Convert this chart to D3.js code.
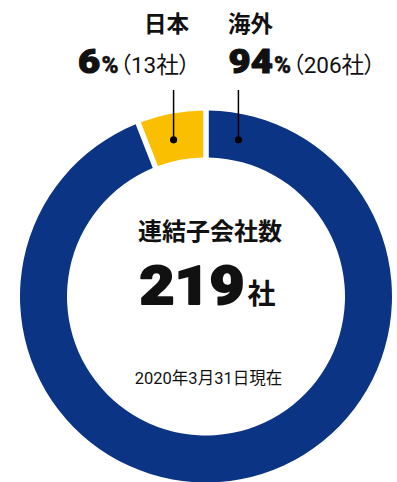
<!DOCTYPE html>
<html>
<head>
<meta charset="utf-8">
<script src="https://cdn.jsdelivr.net/npm/d3@7/dist/d3.min.js"></script>
<style>
  html, body { margin: 0; padding: 0; background: #fff; }
  svg { display: block; }
  text { font-family: Roboto, "Noto Sans CJK JP", sans-serif; fill: #111; }
  .jp { font-family: "Noto Sans CJK JP", sans-serif; }
  .num { font-family: Roboto, "Liberation Sans", sans-serif; font-weight: 900;
         stroke: #111; stroke-linejoin: round; }
  .paren { font-feature-settings: "palt"; }
</style>
</head>
<body>
<svg id="chart" width="397" height="482"></svg>
<script>
// Consolidated subsidiaries by region
const regions = ["海外", "日本"];
const companies = [206, 13];
const percents = [94, 6];
const colors = ["#0b3484", "#f9bf00"];
const totalLabel = "連結子会社数";
const totalCount = 219;
const asOf = "2020年3月31日現在";

const W = 397, H = 482;
const cx = 206, cy = 296.5;
const outerR = 186, innerR = 139;

const svg = d3.select("#chart");

const pie = d3.pie().sort(null).value(d => d)
  .startAngle(0).endAngle(2 * Math.PI);
const arc = d3.arc().innerRadius(innerR).outerRadius(outerR)
  .padAngle(0.024).padRadius(232);

const g = svg.append("g").attr("transform", `translate(${cx},${cy})`);
g.selectAll("path.slice")
  .data(pie(companies))
  .join("path")
  .attr("class", "slice")
  .attr("d", arc)
  .attr("fill", (d, i) => colors[i]);

// Leader markers: overseas on the right of the top gap, Japan on the left
const leaderR = 160, leaderA = 0.204, lineTop = 90;
const leaders = [
  { x: Math.sin(leaderA) * leaderR, y: -Math.cos(leaderA) * leaderR },
  { x: -Math.sin(leaderA) * leaderR, y: -Math.cos(leaderA) * leaderR }
];
g.selectAll("line.leader")
  .data(leaders)
  .join("line")
  .attr("class", "leader")
  .attr("x1", d => d.x).attr("x2", d => d.x)
  .attr("y1", d => d.y).attr("y2", lineTop - cy)
  .attr("stroke", "#000").attr("stroke-width", 1.5);
g.selectAll("circle.dot")
  .data(leaders)
  .join("circle")
  .attr("class", "dot")
  .attr("cx", d => d.x).attr("cy", d => d.y)
  .attr("r", 3.6).attr("fill", "#000");

// Lays out a run of text pieces on one baseline; each piece may be widened
// horizontally so the heavy numerals get their broad display shape.
function textRun(x, y, anchor, pieces) {
  const run = svg.append("g");
  let cursor = 0;
  const placed = pieces.map(p => {
    cursor += p.dx || 0;
    const sx = p.sx || 1;
    const t = run.append("text")
      .attr("class", p.cls || null)
      .attr("font-size", p.size)
      .attr("font-weight", p.weight || 400)
      .attr("stroke-width", p.stroke || null)
      .text(p.text);
    const w = t.node().getComputedTextLength() * sx + (p.stroke || 0);
    const item = { t, x: cursor + (p.stroke || 0) / 2, sx };
    cursor += w;
    return item;
  });
  const start = anchor === "end" ? x - cursor : anchor === "middle" ? x - cursor / 2 : x;
  placed.forEach(({ t, x: px, sx }) => {
    t.attr("transform", `translate(${start + px},${y}) scale(${sx},1)`);
  });
  return run;
}

// Region labels
function regionLabel(i, x, anchor) {
  svg.append("text")
    .attr("class", "jp")
    .attr("x", anchor === "end" ? x - 1 : x).attr("y", 31.5)
    .attr("text-anchor", anchor)
    .attr("font-size", 22.5).attr("font-weight", 700)
    .text(regions[i]);
  textRun(x, 73, anchor, [
    { text: String(percents[i]), cls: "num", size: 33.5, weight: 900, sx: 1.14, stroke: 1.1 },
    { text: "%", cls: "num", size: 23, weight: 700, dx: 0.5, stroke: 0.4 },
    { text: `（${companies[i]}社）`, cls: "paren", size: 22.5, weight: 400, dx: 1 }
  ]);
}
regionLabel(0, 228, "start");
regionLabel(1, 190, "end");

// Centre total
svg.append("text")
  .attr("class", "jp")
  .attr("x", 210).attr("y", 240)
  .attr("text-anchor", "middle")
  .attr("font-size", 24).attr("font-weight", 700)
  .text(totalLabel);
textRun(207, 304, "middle", [
  { text: String(totalCount), cls: "num", size: 54, weight: 900, sx: 1.12, stroke: 1.8 },
  { text: "社", cls: "jp", size: 28, weight: 700, dx: 2 }
]);

svg.append("text")
  .attr("x", 208.5).attr("y", 384)
  .attr("text-anchor", "middle")
  .attr("font-size", 16.5).attr("font-weight", 400)
  .text(asOf);
</script>
</body>
</html>
